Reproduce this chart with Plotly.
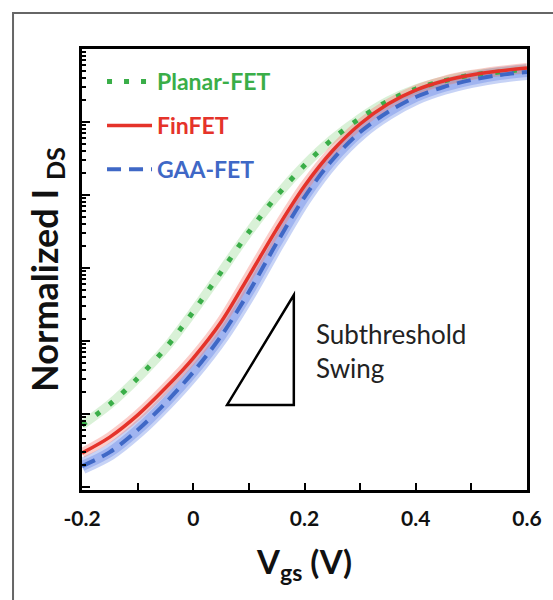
import plotly.graph_objects as go

vgs = [-0.2, -0.15, -0.1, -0.05, 0.0, 0.05, 0.1, 0.15, 0.2, 0.25, 0.3, 0.35, 0.4, 0.45, 0.5, 0.55, 0.6]
planar = [7.06e-6, 1.36e-5, 3.09e-5, 7.94e-5, 2.53e-4, 8.81e-4, 3.11e-3, 9.68e-3, 2.56e-2,
          5.80e-2, 0.113, 0.194, 0.283, 0.365, 0.440, 0.484, 0.532]
finfet = [2.92e-6, 4.84e-6, 9.68e-6, 2.27e-5, 5.85e-5, 1.82e-4, 7.77e-4, 3.42e-3, 1.33e-2,
          4.01e-2, 9.39e-2, 0.1765, 0.274, 0.365, 0.440, 0.500, 0.549]
gaafet = [1.94e-6, 3.01e-6, 6.04e-6, 1.42e-5, 3.76e-5, 1.17e-4, 4.69e-4, 2.20e-3, 9.39e-3,
          3.02e-2, 7.29e-2, 0.137, 0.220, 0.302, 0.376, 0.440, 0.484]

x_ticks = [-0.2, 0, 0.2, 0.4, 0.6]
x_ticklabels = ["-0.2", "0", "0.2", "0.4", "0.6"]

GREEN = "#3aae48"
RED = "#e5332a"
BLUE = "#3f68c6"

fig = go.Figure()

# glow bands
fig.add_trace(go.Scatter(x=vgs, y=planar, mode="lines",
                         line=dict(color="rgba(120,205,110,0.28)", width=9, shape="spline", smoothing=0.9),
                         showlegend=False, hoverinfo="skip"))
fig.add_trace(go.Scatter(x=vgs, y=gaafet, mode="lines",
                         line=dict(color="rgba(70,110,225,0.30)", width=16, shape="spline", smoothing=0.9),
                         showlegend=False, hoverinfo="skip"))
fig.add_trace(go.Scatter(x=vgs, y=gaafet, mode="lines",
                         line=dict(color="rgba(70,110,225,0.30)", width=10, shape="spline", smoothing=0.9),
                         showlegend=False, hoverinfo="skip"))
fig.add_trace(go.Scatter(x=vgs, y=finfet, mode="lines",
                         line=dict(color="rgba(245,130,120,0.40)", width=10, shape="spline", smoothing=0.9),
                         showlegend=False, hoverinfo="skip"))

fig.add_trace(go.Scatter(x=vgs, y=planar, mode="lines", name=f'<span style="color:{GREEN}">Planar-FET</span>',
                         legendgroup="a", line=dict(color=GREEN, width=5, dash="5px,12px", shape="spline", smoothing=0.9)))
fig.add_trace(go.Scatter(x=vgs, y=finfet, mode="lines", name=f'<span style="color:{RED}">FinFET</span>',
                         legendgroup="b", line=dict(color=RED, width=3.5, shape="spline", smoothing=0.9)))
fig.add_trace(go.Scatter(x=vgs, y=gaafet, mode="lines", name=f'<span style="color:{BLUE}">GAA-FET</span>',
                         legendgroup="c", line=dict(color=BLUE, width=4, dash="14px,8px", shape="spline", smoothing=0.9)))

# subthreshold swing triangle (annotation)
fig.add_shape(type="path", xref="paper", yref="paper",
              path="M 0.326 0.193 L 0.476 0.193 L 0.476 0.442 Z",
              line=dict(color="black", width=2.5), fillcolor="rgba(0,0,0,0)")
fig.add_annotation(xref="paper", yref="paper", x=0.522, y=0.315, xanchor="left", yanchor="middle",
                   text="Subthreshold<br>Swing", showarrow=False, align="left",
                   font=dict(family="Lato", size=26, color="#222222"))

# outer frame
fig.add_shape(type="rect", xref="paper", yref="paper", x0=-0.155, x1=2.0, y0=-1.0, y1=1.0816,
              line=dict(color="#666666", width=2), fillcolor="rgba(0,0,0,0)", layer="below")

fig.update_layout(
    width=553, height=600,
    margin=dict(l=82, r=26, t=49, b=110),
    paper_bgcolor="white", plot_bgcolor="white",
    font=dict(family="Lato", color="#111111"),
    showlegend=True,
    legend=dict(x=0.045, y=0.975, xanchor="left", yanchor="top", bgcolor="rgba(0,0,0,0)",
                itemwidth=45,
                font=dict(family="Lato", size=23, weight="bold"), tracegroupgap=11, traceorder="grouped"),
    xaxis=dict(range=[-0.2, 0.6], tickvals=x_ticks, ticktext=x_ticklabels,
               ticks="inside", ticklen=7, tickwidth=2, tickcolor="black",
               minor=dict(ticks="inside", dtick=0.1, tick0=0, ticklen=7, tickwidth=2, tickcolor="black"),
               showline=True, linecolor="black", linewidth=3, mirror=True, showgrid=False, zeroline=False,
               ticklabelstandoff=8,
               tickfont=dict(family="Lato", size=21, weight="bold", color="#111111"),
               title=dict(text="V<sub>gs</sub> (V)", font=dict(family="Lato", size=33, weight="bold", color="#111111"),
                          standoff=22)),
    yaxis=dict(type="log", range=[-6.04, 0.0], dtick=1, showticklabels=False,
               ticks="inside", ticklen=8, tickwidth=2, tickcolor="black",
               minor=dict(ticks="inside", dtick="D1", ticklen=4, tickwidth=1.5, tickcolor="black"),
               showline=True, linecolor="black", linewidth=3, mirror=True, showgrid=False, zeroline=False,
               title=dict(text="Normalized I <sub>DS</sub>", font=dict(family="Lato", size=36, weight="bold", color="#111111"),
                          standoff=10)),
)

fig.write_html("out.html")
